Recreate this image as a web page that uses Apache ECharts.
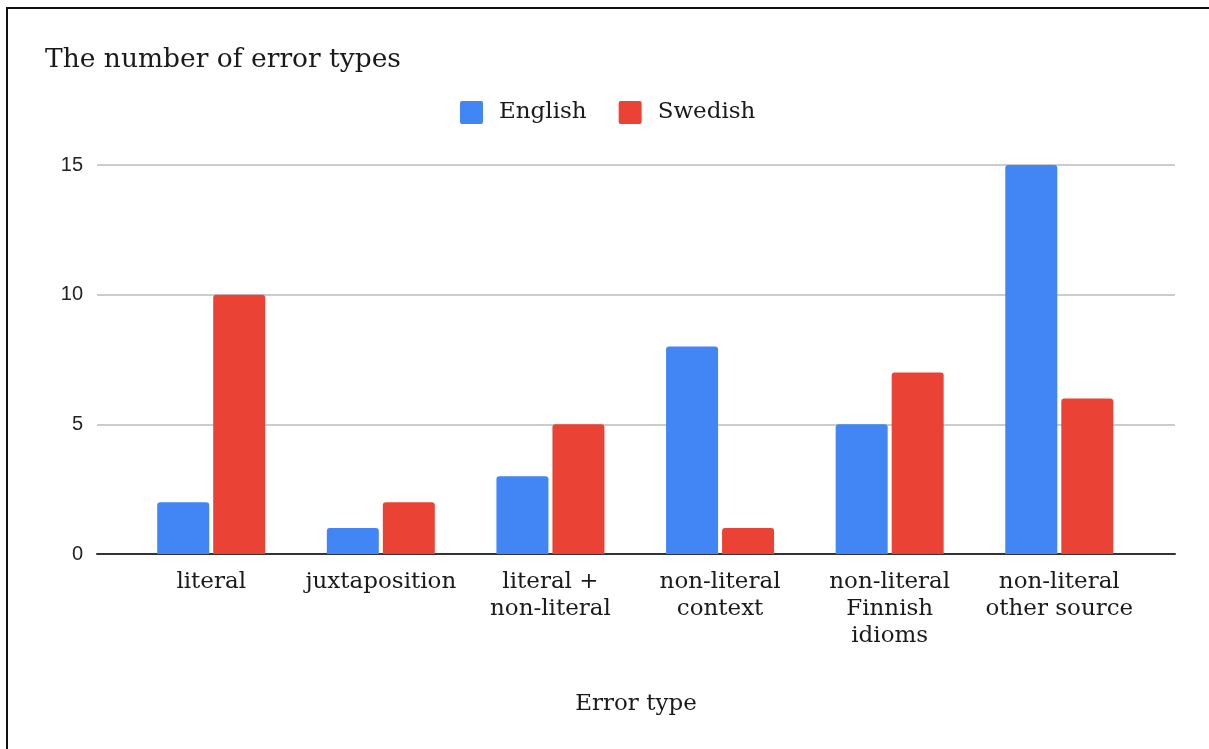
<!DOCTYPE html>
<html>
<head>
<meta charset="utf-8">
<script src="https://cdn.jsdelivr.net/npm/echarts@6/dist/echarts.min.js"></script>
<style>
  html, body { margin: 0; padding: 0; background: #fff; }
  #chart { position: absolute; left: 0; top: 0; width: 1209px; height: 749px; }
  #frame { position: absolute; left: 6px; top: 7px; width: 1203px; height: 742px;
           border-left: 2px solid #111; border-top: 2px solid #111; box-sizing: border-box; pointer-events: none; }
</style>
</head>
<body>
<div id="chart"></div>
<div id="frame"></div>
<script>
// data
const categories = ['literal', 'juxtaposition', 'literal +\nnon-literal', 'non-literal\ncontext', 'non-literal\nFinnish\nidioms', 'non-literal\nother source'];
const english = [2, 1, 3, 8, 5, 15];
const swedish = [10, 2, 5, 1, 7, 6];
const yTicks = [0, 5, 10, 15];

const serif = '"DejaVu Serif", Georgia, serif';
const sans = '"Liberation Sans", Arial, sans-serif';
// small-radius square for the legend keys
const keyIcon = 'path://M2,0 H21 A2,2 0 0 1 23,2 V21 A2,2 0 0 1 21,23 H2 A2,2 0 0 1 0,21 V2 A2,2 0 0 1 2,0 Z';

let chart = echarts.init(document.getElementById('chart'));

let options = {
  backgroundColor: '#fff',
  color: ['#4285F4', '#EA4335'],
  animation: false,
  title: {
    text: 'The number of error types',
    left: 40,
    top: 42,
    textStyle: { fontFamily: serif, fontSize: 26.5, fontWeight: 'normal', color: '#1a1a1a' }
  },
  legend: {
    left: 460,
    top: 101,
    padding: 0,
    icon: keyIcon,
    itemWidth: 23,
    itemHeight: 23,
    itemGap: 32,
    textStyle: { fontFamily: serif, fontSize: 23, color: '#1a1a1a', padding: [0, 0, 0, 11] },
    data: ['English', 'Swedish']
  },
  grid: [
    // full-width grid for the gridlines and baseline
    { left: 97, right: 34, top: 165, bottom: 195 },
    // inner grid for the bars
    { left: 126.4, right: 64.9, top: 165, bottom: 195 }
  ],
  xAxis: [
    {
      type: 'value', gridIndex: 0, min: 0, max: 1,
      axisLabel: { show: false }, axisTick: { show: false }, splitLine: { show: false },
      axisLine: { show: true, lineStyle: { color: '#333', width: 2 } },
      name: 'Error type', nameLocation: 'middle', nameGap: 139,
      nameTextStyle: { fontFamily: serif, fontSize: 23, color: '#1a1a1a' }
    },
    {
      type: 'category', gridIndex: 1, data: categories,
      axisLine: { show: false }, axisTick: { show: false },
      axisLabel: { fontFamily: serif, fontSize: 23, color: '#1a1a1a', lineHeight: 27, margin: 15, interval: 0 }
    }
  ],
  yAxis: [
    {
      type: 'value', gridIndex: 0, min: 0, max: 15, interval: 5,
      axisLine: { show: false }, axisTick: { show: false },
      axisLabel: { fontFamily: sans, fontSize: 20, color: '#222', margin: 14 },
      splitLine: { lineStyle: { color: '#ccc', width: 2 } }
    },
    {
      type: 'value', gridIndex: 1, min: 0, max: 15, interval: 5, show: false
    }
  ],
  series: [
    {
      name: 'English', type: 'bar', xAxisIndex: 1, yAxisIndex: 1,
      data: english, barWidth: 52, barGap: '7.7%',
      itemStyle: { borderRadius: [3, 3, 0, 0] }
    },
    {
      name: 'Swedish', type: 'bar', xAxisIndex: 1, yAxisIndex: 1,
      data: swedish, barWidth: 52, barGap: '7.7%',
      itemStyle: { borderRadius: [3, 3, 0, 0] }
    }
  ]
};

chart.setOption(options);
</script>
</body>
</html>
